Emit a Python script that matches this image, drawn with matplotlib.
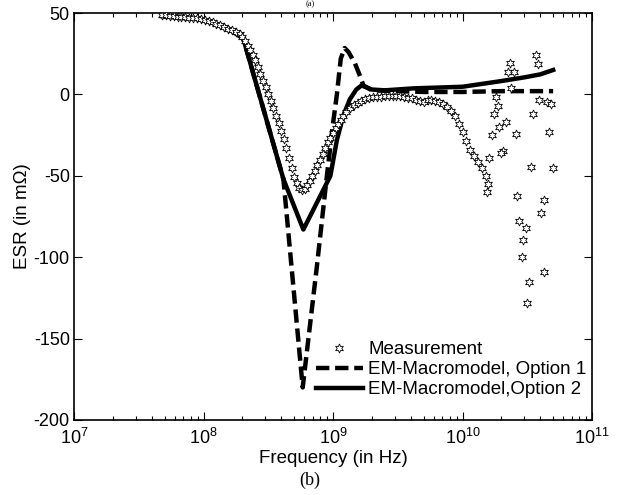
import matplotlib.pyplot as plt
import numpy as np

plt.rcParams['font.family'] = 'Liberation Sans'
plt.rcParams['mathtext.fontset'] = 'custom'
plt.rcParams['mathtext.rm'] = 'Liberation Sans'
plt.rcParams['axes.unicode_minus'] = False

# measurement (log10 of frequency, ESR in mOhm)
meas_logf = [7.68, 7.71, 7.74, 7.77, 7.80, 7.83, 7.86, 7.89, 7.92, 7.95,
             7.98, 8.01, 8.04, 8.07, 8.10, 8.13, 8.16, 8.19, 8.22, 8.25,
             8.28, 8.30, 8.32, 8.34, 8.36, 8.38, 8.40, 8.42, 8.44, 8.46,
             8.48, 8.50, 8.52, 8.54, 8.56, 8.58, 8.60, 8.62, 8.64, 8.66,
             8.68, 8.70, 8.72, 8.74, 8.76, 8.78, 8.80, 8.82, 8.84, 8.86,
             8.88, 8.90, 8.92, 8.94, 8.96, 8.98, 9.00, 9.02, 9.04, 9.06,
             9.08, 9.10, 9.13, 9.16, 9.19, 9.22, 9.25, 9.28, 9.31, 9.34,
             9.37, 9.40, 9.43, 9.46, 9.49, 9.52, 9.55, 9.58, 9.61, 9.64,
             9.67, 9.70, 9.73, 9.76, 9.79, 9.82, 9.85, 9.88, 9.91, 9.94,
             9.97, 10.00, 10.03, 10.06, 10.09, 10.12, 10.15, 10.18, 10.20, 10.19,
             10.565, 10.581, 10.367, 10.349, 10.398, 10.375, 10.259, 10.274, 10.246, 10.334,
             10.284, 10.230, 10.413, 10.591, 10.650, 10.683, 10.542, 10.668, 10.315, 10.300,
             10.207, 10.529, 10.701, 10.421, 10.632, 10.606, 10.439, 10.488, 10.470, 10.457,
             10.627, 10.514, 10.496]
meas_esr = [48.8, 48.5, 48.3, 48.0, 47.8, 47.6, 47.4, 47.2, 47.0, 46.8,
            46.4, 45.8, 45.0, 44.2, 43.4, 42.6, 41.5, 40.3, 39.3, 38.4,
            37.3, 35.5, 32.5, 30.0, 27.5, 24.5, 21.0, 17.0, 12.5, 8.5,
            4.5, 0.5, -4.0, -8.5, -13.0, -17.5, -22.5, -27.5, -33.0, -39.0,
            -45.0, -50.5, -54.5, -57.5, -58.7, -58.0, -55.5, -53.0, -50.0, -47.0,
            -43.5, -40.0, -36.5, -33.0, -29.5, -26.5, -23.5, -20.5, -18.0, -15.5,
            -13.0, -11.0, -8.5, -6.5, -5.0, -3.8, -3.0, -2.3, -1.8, -1.5,
            -1.3, -1.1, -1.0, -1.0, -1.0, -1.2, -1.5, -2.0, -2.5, -3.2,
            -4.2, -4.5, -3.6, -3.4, -3.8, -4.5, -5.8, -7.5, -10.0, -13.5,
            -18.0, -23.0, -28.5, -34.0, -38.0, -41.5, -45.5, -50.0, -55.0, -59.8,
            24.2, 18.5, 19.5, 13.6, 13.6, 3.7, -1.8, -7.1, -12.0, -16.8,
            -19.8, -24.9, -24.3, -3.4, -4.9, -5.9, -12.0, -22.9, -34.6, -36.2,
            -39.3, -44.6, -45.4, -62.2, -64.9, -72.7, -77.8, -82.3, -89.4, -99.7,
            -109.3, -115.1, -128.3]

# EM-Macromodel, Option 1
opt1_logf = [7.68, 8.0, 8.18, 8.307, 8.617, 8.766, 8.875, 8.95, 9.0, 9.03,
             9.06, 9.09, 9.12, 9.17, 9.21, 9.235, 9.3, 9.7, 10.0, 10.3, 10.7]
opt1_esr = [48, 46, 41, 34.4, -52, -180, -106, -52, -18, 0,
            22, 28.5, 26, 19, 11, 5.5, 2.5, 1.5, 1.5, 2, 2]

# EM-Macromodel, Option 2
opt2_logf = [7.68, 8.0, 8.18, 8.307, 8.617, 8.771, 8.98, 9.03, 9.08, 9.13,
             9.18, 9.22, 9.3, 9.4, 9.62, 10.0, 10.3, 10.48, 10.6, 10.7]
opt2_esr = [48, 46, 41, 34.4, -52, -83, -50, -28, -13, -3,
            3, 5.5, 3, 2.5, 3.7, 4.7, 8.2, 10.5, 12.3, 15]

fig = plt.figure(figsize=(6.2, 4.95), dpi=100)
ax = fig.add_axes([74 / 620, 1 - 420 / 495, 518 / 620, 407 / 495])

ax.plot(10 ** np.array(meas_logf), meas_esr, linestyle='none', marker=(6, 1, 0),
        markersize=6.5, markerfacecolor='white', markeredgecolor='black',
        markeredgewidth=0.6, label='Measurement', zorder=3)
ax.plot(10 ** np.array(opt1_logf), opt1_esr, color='black', linewidth=3.2,
        dashes=(3.0, 1.3), label='EM-Macromodel, Option 1', zorder=2)
ax.plot(10 ** np.array(opt2_logf), opt2_esr, color='black', linewidth=3.2,
        label='EM-Macromodel,Option 2', zorder=2)

ax.set_xscale('log')
ax.set_xlim(1e7, 1e11)
ax.set_ylim(-200, 50)
ax.set_yticks([-200, -150, -100, -50, 0, 50])
ax.set_xticks([1e7, 1e8, 1e9, 1e10, 1e11])
ax.tick_params(which='both', direction='in', top=True, right=True, width=0.8)
ax.tick_params(which='major', length=6, labelsize=13)
ax.tick_params(axis='x', which='major', pad=6)
ax.tick_params(axis='y', which='major', pad=3)
ax.tick_params(which='minor', length=3)
for s in ax.spines.values():
    s.set_linewidth(1.2)

ax.set_xlabel('Frequency (in Hz)', fontsize=13.5, labelpad=1)
ax.set_ylabel('ESR (in m\u03a9)', fontsize=13.5, labelpad=2)

ax.legend(loc='lower right', bbox_to_anchor=(1.0, 0.04), frameon=False,
          fontsize=13.5, handlelength=2.5, handletextpad=0.3, numpoints=1,
          borderpad=0.1, borderaxespad=0.2, labelspacing=0.15)

fig.text(0.5, 1 - 480 / 495, '(b)', ha='center', va='center',
         family='Liberation Serif', fontsize=13)
fig.text(0.5, 0.999, '(a)', ha='center', va='top',
         family='Liberation Serif', fontsize=6)

fig.savefig('out.png', dpi=100)
